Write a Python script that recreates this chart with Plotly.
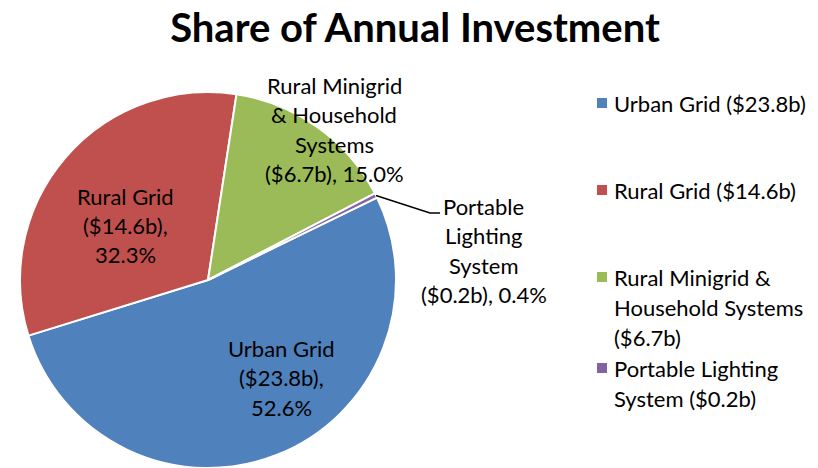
import math
import plotly.graph_objects as go

W, H = 818, 468

categories = ["Urban Grid", "Rural Grid", "Rural Minigrid & Household Systems", "Portable Lighting System"]
investment_b = [23.8, 14.6, 6.7, 0.2]
share_pct = [52.6, 32.3, 15.0, 0.4]
colors = ["#4F81BD", "#C0504D", "#9BBB59", "#8064A2"]

slice_label_lines = [
    ["Urban Grid", "($23.8b),", "52.6%"],
    ["Rural Grid", "($14.6b),", "32.3%"],
    ["Rural Minigrid", "& Household", "Systems", "($6.7b), 15.0%"],
    ["Portable", "Lighting", "System", "($0.2b), 0.4%"],
]
legend_lines = [
    ["Urban Grid ($23.8b)"],
    ["Rural Grid ($14.6b)"],
    ["Rural Minigrid &", "Household Systems", "($6.7b)"],
    ["Portable Lighting", "System ($0.2b)"],
]

FONT = "Lato"
cx, cy, R = 208, 280, 188
rotation = 64


def px(x):
    return x / W


def py(y):
    return 1 - y / H


fig = go.Figure()
fig.add_trace(go.Pie(
    labels=categories,
    values=share_pct,
    sort=False,
    direction="clockwise",
    rotation=rotation,
    marker=dict(colors=colors, line=dict(color="white", width=2)),
    textinfo="none",
    hoverinfo="label+percent",
    showlegend=False,
    domain=dict(x=[px(cx - R), px(cx + R)], y=[py(cy + R), py(cy - R)]),
))

annotations = []
label_pos = [(281, 348), (125, 196), (334, 85), (484, 206)]
line_h = 29.5
for lines, (lx, ly) in zip(slice_label_lines, label_pos):
    for i, t in enumerate(lines):
        annotations.append(dict(
            x=px(lx), y=py(ly + i * line_h), xref="paper", yref="paper",
            text=t, showarrow=False, xanchor="center", yanchor="middle",
            font=dict(family=FONT, size=22, color="#000000"),
        ))

# leader line for the smallest slice
total = sum(share_pct)
mid = rotation - share_pct[3] / total * 360 / 2
ang = math.radians(mid)
sx, sy = cx + R * math.sin(ang), cy - R * math.cos(ang)
shapes = [dict(type="path", xref="paper", yref="paper",
               path=f"M {px(sx)},{py(sy)} L {px(430)},{py(213)} L {px(440)},{py(213)}",
               line=dict(color="black", width=1.5))]

# legend
leg_y = [103, 190, 277, 368]
leg_lh = 30
for lines, col, y0 in zip(legend_lines, colors, leg_y):
    shapes.append(dict(type="rect", xref="paper", yref="paper",
                       x0=px(597), x1=px(607), y0=py(y0 - 5), y1=py(y0 + 5),
                       fillcolor=col, line=dict(width=0)))
    for i, t in enumerate(lines):
        annotations.append(dict(
            x=px(612), y=py(y0 + i * leg_lh), xref="paper", yref="paper",
            text=t, showarrow=False, xanchor="left", yanchor="middle",
            font=dict(family=FONT, size=22, color="#000000"),
        ))

fig.update_layout(
    width=W, height=H,
    margin=dict(l=0, r=0, t=0, b=0),
    paper_bgcolor="white",
    plot_bgcolor="white",
    title=dict(text="<b>Share of Annual Investment</b>", x=px(415), xanchor="center",
               y=py(28), yanchor="middle", yref="container",
               font=dict(family=FONT, size=40, color="#000000")),
    annotations=annotations,
    shapes=shapes,
)

fig.write_html("out.html",
               config={"displayModeBar": False},
               post_script="document.body.style.margin='0';document.body.style.overflow='hidden';")
